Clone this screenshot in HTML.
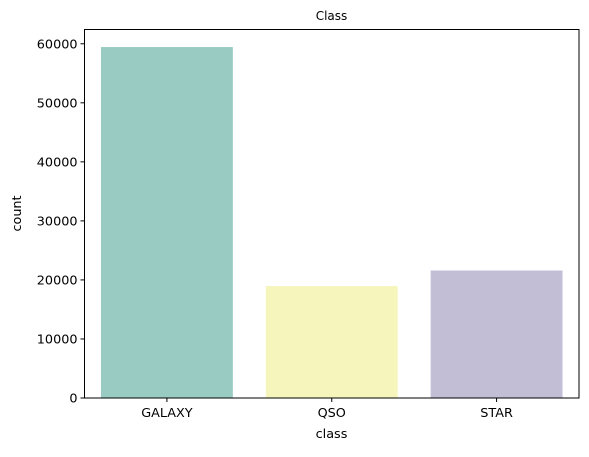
<!DOCTYPE html>
<html><head><meta charset="utf-8"><style>
body{margin:0;background:#fff;}
svg text{font-family:"DejaVu Sans","Liberation Sans",sans-serif;fill:#000;}
</style></head><body>
<svg id="chart" width="589" height="452" xmlns="http://www.w3.org/2000/svg">
<rect width="589" height="452" fill="#fff"/>
<text x="331.5" y="20" font-size="12" text-anchor="middle">Class</text>
<g id="bars"></g>
<g id="yticks"></g>
<g id="xticks"></g>
<rect x="84.5" y="29.5" width="494.5" height="368.5" fill="none" stroke="#000" stroke-width="1"/>
<text x="331.5" y="438" font-size="12.8" text-anchor="middle">class</text>
<text transform="translate(21,213.5) rotate(-90)" font-size="12.8" text-anchor="middle">count</text>
</svg>
<script>
const categories=["GALAXY","QSO","STAR"];
const counts=[59445,18961,21594];
const colors=["#99cbc3","#f6f6bc","#c2bed6"];
const yTicks=[0,10000,20000,30000,40000,50000,60000];
const L=84.5,R=579,T=29.5,B=398;
const yMax=Math.max(...counts)*1.05;
const y=v=>B-(v/yMax)*(B-T);
const band=(R-L)/categories.length;
const xc=i=>L+band*(i+0.5);
const NS="http://www.w3.org/2000/svg";
const bars=document.getElementById('bars'),yt=document.getElementById('yticks'),xt=document.getElementById('xticks');
categories.forEach((c,i)=>{
  const r=document.createElementNS(NS,'rect');
  const w=band*0.8;
  r.setAttribute('x',xc(i)-w/2);r.setAttribute('width',w);
  r.setAttribute('y',y(counts[i]));r.setAttribute('height',B-y(counts[i]));
  r.setAttribute('fill',colors[i]);
  
  
  bars.appendChild(r);
  const l=document.createElementNS(NS,'line');
  l.setAttribute('x1',xc(i));l.setAttribute('x2',xc(i));l.setAttribute('y1',B);l.setAttribute('y2',B+4);l.setAttribute('stroke','#000');
  
  
  xt.appendChild(l);
  const t=document.createElementNS(NS,'text');
  t.setAttribute('x',xc(i));t.setAttribute('y',B+19);t.setAttribute('font-size','12.8');t.setAttribute('text-anchor','middle');
  t.textContent=c;
  
  
  xt.appendChild(t);
});
yTicks.forEach(v=>{
  const l=document.createElementNS(NS,'line');
  l.setAttribute('x1',L-4);l.setAttribute('x2',L);l.setAttribute('y1',y(v));l.setAttribute('y2',y(v));l.setAttribute('stroke','#000');
  
  
  yt.appendChild(l);
  const t=document.createElementNS(NS,'text');
  t.setAttribute('x',L-7);t.setAttribute('y',y(v)+4.5);t.setAttribute('font-size','12.8');t.setAttribute('text-anchor','end');
  t.textContent=v;
  
  
  yt.appendChild(t);
});
</script>
</body></html>
